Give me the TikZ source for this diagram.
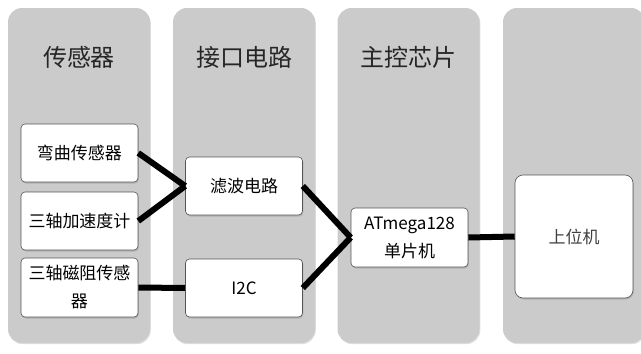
\documentclass[tikz,border=0pt]{standalone}
\usepackage{fontspec}
\setmainfont{Noto Sans CJK SC}
\usetikzlibrary{shadows}
\definecolor{lanegray}{HTML}{CBCBCB}
\definecolor{boxedge}{HTML}{555555}
\tikzset{
  lane/.style={fill=lanegray, rounded corners=14pt, minimum width=142pt, minimum height=335pt, inner sep=0pt,
    drop shadow={shadow xshift=0.8pt, shadow yshift=-1.2pt, opacity=0.25}},
  title/.style={font=\fontsize{24}{28}\selectfont, text=black!85},
  blk/.style={draw=boxedge, line width=0.6pt, fill=white, rounded corners=4pt, minimum width=117pt, minimum height=58pt,
    inner sep=1pt, align=center, font=\fontsize{17}{28}\selectfont,
    drop shadow={shadow xshift=0.8pt, shadow yshift=-1.5pt, opacity=0.35}},
  conn/.style={line width=6pt, black}
}
\begin{document}
\begin{tikzpicture}[x=1pt,y=-1pt]
\useasboundingbox (0,0) rectangle (641,354);
\begin{scope}
\clip (0,0) rectangle (641,354);
\node[lane] (lane1) at (79,175.5) {};
\node[lane] (lane2) at (244,175.5) {};
\node[lane] (lane3) at (408.5,175.5) {};
\node[lane] (lane4) at (574,175.5) {};
\end{scope}
\node[title] (t1) at (79,57) {传感器};
\node[title] (t2) at (244,57) {接口电路};
\node[title] (t3) at (408.5,57) {主控芯片};

\node[blk] (s1) at (79.5,153) {弯曲传感器};
\node[blk] (s2) at (79.5,221) {三轴加速度计};
\node[blk, minimum height=59pt] (s3) at (79.5,287.5) {三轴磁阻传感\\器};
\node[blk] (f) at (244,186) {滤波电路};
\node[blk] (i) at (244,288) {I2C};
\node[blk, minimum height=59pt] (m) at (409.5,237.5) {ATmega128\\单片机};
\node[blk, rounded corners=8pt, minimum width=118pt, minimum height=123pt, text=black!75] (pc) at (574,236.5) {上位机};

\draw[conn] (s1.east) -- (f.west);
\draw[conn] (s2.east) -- (f.west);
\draw[conn] (s3.east) -- (i.west);
\draw[conn] (f.east) -- (m.west);
\draw[conn] (i.east) -- (m.west);
\draw[conn] (m.east) -- (pc.west);
\end{tikzpicture}
\end{document}
